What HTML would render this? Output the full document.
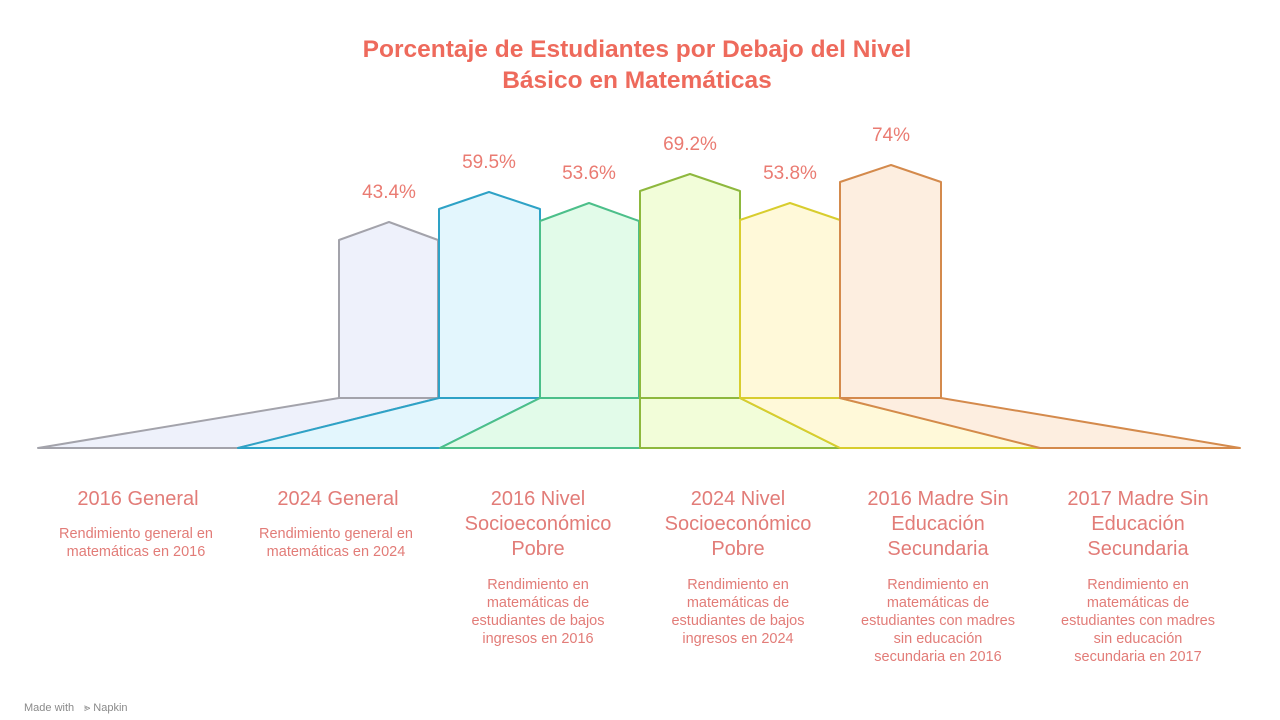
<!DOCTYPE html>
<html><head><meta charset="utf-8"><style>
html,body{margin:0;padding:0;background:#fff;}
svg{display:block;font-family:"Liberation Sans",sans-serif;}
.t{fill:#ee6a5c;font-weight:bold;font-size:24.5px;}
.v{fill:#ea7b72;font-size:19px;}
.h{fill:#e27c78;font-size:20px;}
.d{fill:#e27c78;font-size:14.5px;}
</style></head><body>
<svg width="1280" height="720" viewBox="0 0 1280 720">
<text class="t" x="637" y="57" text-anchor="middle">Porcentaje de Estudiantes por Debajo del Nivel</text>
<text class="t" x="637" y="88" text-anchor="middle">Básico en Matemáticas</text>

<g stroke-width="2" stroke-linejoin="round">
<polygon points="38,448 238,448 439,398 339,398" fill="#eef1fb" stroke="#a3a3ab"/>
<polygon points="339,398 339,240 389,222 438,240 438,398" fill="#eef1fb" stroke="#a3a3ab"/>
<polygon points="238,448 440,448 540,398 439,398" fill="#e3f6fd" stroke="#2ea2c6"/>
<polygon points="439,398 439,209 489,192 540,209 540,398" fill="#e3f6fd" stroke="#2ea2c6"/>
<polygon points="440,448 640,448 640,398 540,398" fill="#e2fbe9" stroke="#4cbf8a"/>
<polygon points="540,398 540,221 589,203 639,221 639,398" fill="#e2fbe9" stroke="#4cbf8a"/>
<polygon points="640,448 840,448 740,398 640,398" fill="#f2fdd9" stroke="#8eb83e"/>
<polygon points="640,398 640,191 690,174 740,191 740,398" fill="#f2fdd9" stroke="#8eb83e"/>
<polygon points="840,448 1040,448 840,398 740,398" fill="#fff9d9" stroke="#d8cd2e"/>
<polygon points="740,398 740,220 790,203 840,220 840,398" fill="#fff9d9" stroke="#d8cd2e"/>
<polygon points="1040,448 1240,448 941,398 840,398" fill="#fdeee0" stroke="#d48a4c"/>
<polygon points="840,398 840,182 891,165 941,182 941,398" fill="#fdeee0" stroke="#d48a4c"/>
</g>

<text class="v" x="389" y="198" text-anchor="middle">43.4%</text>
<text class="v" x="489" y="168" text-anchor="middle">59.5%</text>
<text class="v" x="589" y="179" text-anchor="middle">53.6%</text>
<text class="v" x="690" y="150" text-anchor="middle">69.2%</text>
<text class="v" x="790" y="179" text-anchor="middle">53.8%</text>
<text class="v" x="891" y="141" text-anchor="middle">74%</text>

<g text-anchor="middle">
<text class="h" x="138" y="505">2016 General</text>
<text class="d" x="136" y="538">Rendimiento general en</text>
<text class="d" x="136" y="556">matemáticas en 2016</text>

<text class="h" x="338" y="505">2024 General</text>
<text class="d" x="336" y="538">Rendimiento general en</text>
<text class="d" x="336" y="556">matemáticas en 2024</text>

<text class="h" x="538" y="505">2016 Nivel</text>
<text class="h" x="538" y="530">Socioeconómico</text>
<text class="h" x="538" y="555">Pobre</text>
<text class="d" x="538" y="589">Rendimiento en</text>
<text class="d" x="538" y="607">matemáticas de</text>
<text class="d" x="538" y="625">estudiantes de bajos</text>
<text class="d" x="538" y="643">ingresos en 2016</text>

<text class="h" x="738" y="505">2024 Nivel</text>
<text class="h" x="738" y="530">Socioeconómico</text>
<text class="h" x="738" y="555">Pobre</text>
<text class="d" x="738" y="589">Rendimiento en</text>
<text class="d" x="738" y="607">matemáticas de</text>
<text class="d" x="738" y="625">estudiantes de bajos</text>
<text class="d" x="738" y="643">ingresos en 2024</text>

<text class="h" x="938" y="505">2016 Madre Sin</text>
<text class="h" x="938" y="530">Educación</text>
<text class="h" x="938" y="555">Secundaria</text>
<text class="d" x="938" y="589">Rendimiento en</text>
<text class="d" x="938" y="607">matemáticas de</text>
<text class="d" x="938" y="625">estudiantes con madres</text>
<text class="d" x="938" y="643">sin educación</text>
<text class="d" x="938" y="661">secundaria en 2016</text>

<text class="h" x="1138" y="505">2017 Madre Sin</text>
<text class="h" x="1138" y="530">Educación</text>
<text class="h" x="1138" y="555">Secundaria</text>
<text class="d" x="1138" y="589">Rendimiento en</text>
<text class="d" x="1138" y="607">matemáticas de</text>
<text class="d" x="1138" y="625">estudiantes con madres</text>
<text class="d" x="1138" y="643">sin educación</text>
<text class="d" x="1138" y="661">secundaria en 2017</text>
</g>

<text x="24" y="711" font-size="11" fill="#8a8a8a">Made with</text>
<text x="84" y="711" font-size="11" fill="#8a8a8a">⪢ Napkin</text>
</svg>
</body></html>
